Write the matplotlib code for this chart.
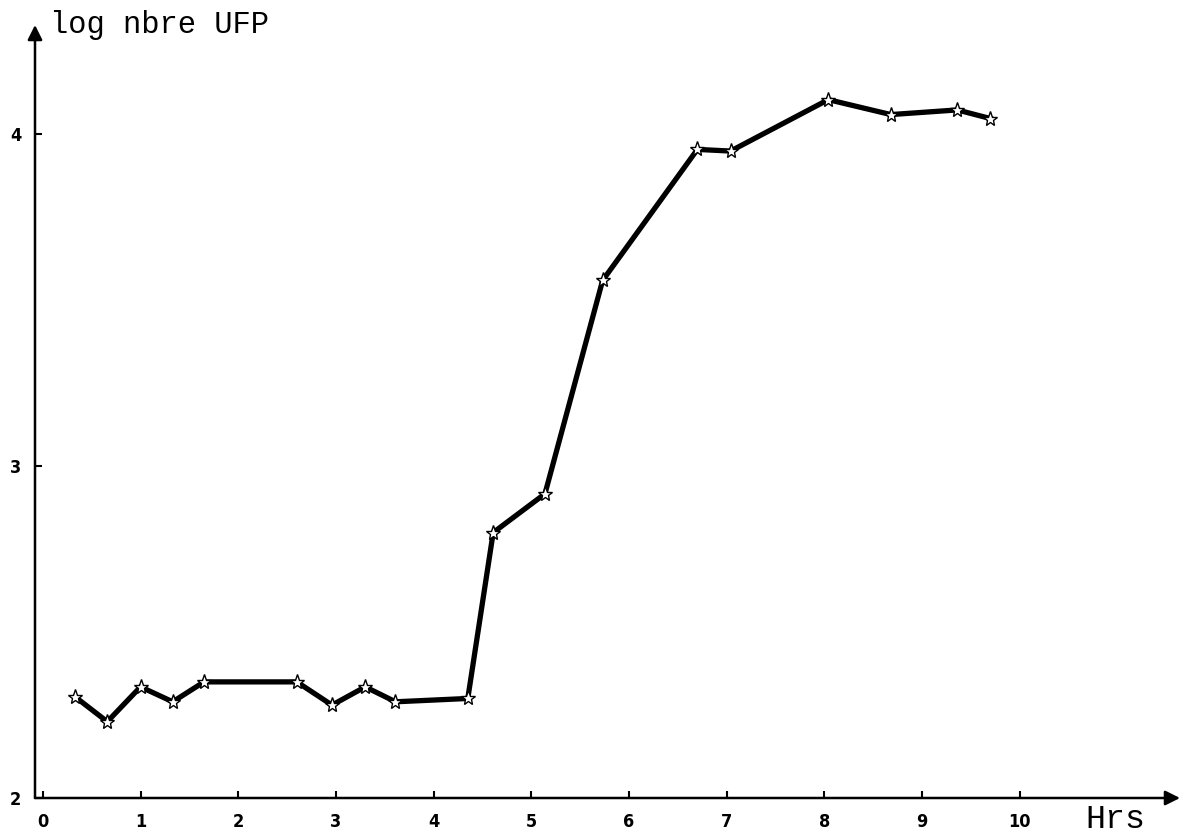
import matplotlib.pyplot as plt

hours = [0.33, 0.66, 1.0, 1.33, 1.65, 2.6, 2.96, 3.3, 3.61, 4.35,
         4.61, 5.14, 5.73, 6.7, 7.04, 8.04, 8.68, 9.36, 9.7]
log_ufp = [2.305, 2.23, 2.335, 2.29, 2.35, 2.35, 2.28, 2.335, 2.29, 2.30,
           2.80, 2.917, 3.56, 3.955, 3.95, 4.105, 4.06, 4.074, 4.048]
x_ticks = list(range(11))
y_ticks = [2, 3, 4]

fig = plt.figure(figsize=(11.89, 8.40), dpi=100)
ax = fig.add_axes([35 / 1189, 42 / 840, 1145 / 1189, 773 / 840])

ax.plot(hours, log_ufp, color="black", lw=3.8, solid_joinstyle="round",
        marker="*", markersize=11, markerfacecolor="white",
        markeredgecolor="black", markeredgewidth=1.0, zorder=3)

ax.set_xlim(-0.08, 11.64)
ax.set_ylim(2, 4.33)

for side in ["top", "right", "left", "bottom"]:
    ax.spines[side].set_visible(False)

# axes drawn as arrows
ax.annotate("", xy=(1, 0), xytext=(0, 0), xycoords="axes fraction",
            arrowprops=dict(arrowstyle="-|>", lw=1.8, color="black",
                            mutation_scale=22, shrinkA=0, shrinkB=0))
ax.annotate("", xy=(0, 1), xytext=(0, 0), xycoords="axes fraction",
            arrowprops=dict(arrowstyle="-|>", lw=1.8, color="black",
                            mutation_scale=22, shrinkA=0, shrinkB=0))

ax.set_xticks(x_ticks)
ax.set_yticks(y_ticks)
ax.tick_params(direction="in", length=5, width=1.5)
ax.tick_params(axis="x", pad=11)
ax.tick_params(axis="y", pad=10)
tick_font = dict(family="DejaVu Sans", weight="bold", size=13,
                 stretch="condensed")
ax.set_xticklabels([str(t) for t in x_ticks], fontdict=tick_font)
ax.set_yticklabels([str(t) for t in y_ticks], fontdict=tick_font)

fig.text(50 / 1189, 1 - 25 / 840, "log nbre UFP", family="Liberation Mono",
         fontsize=22, va="center", ha="left")
fig.text(1085 / 1189, 1 - 820 / 840, "Hrs", family="Liberation Mono",
         fontsize=24, va="center", ha="left")

fig.savefig("out.png", dpi=100)
